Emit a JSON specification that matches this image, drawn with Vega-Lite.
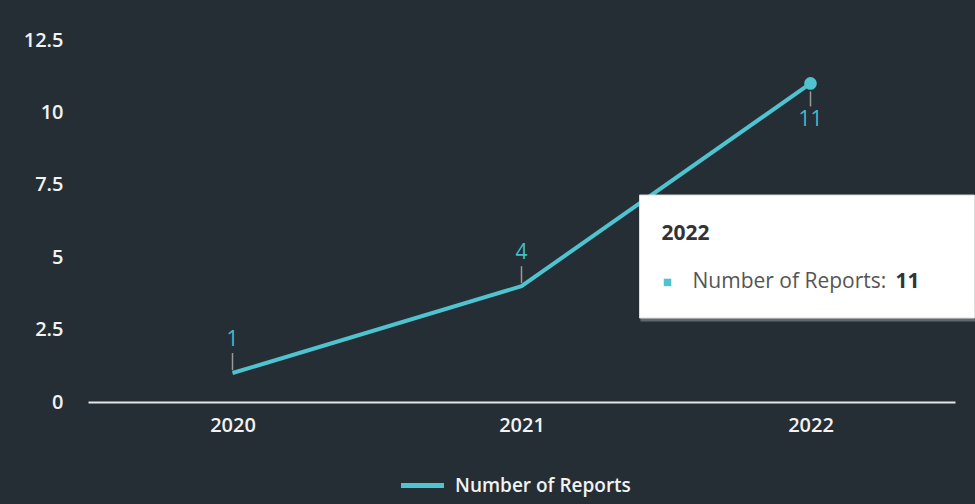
{
  "$schema": "https://vega.github.io/schema/vega-lite/v6.json",
  "width": 867,
  "height": 362,
  "autosize": {"type": "none"},
  "padding": {"left": 88, "top": 40, "right": 20, "bottom": 102},
  "background": "#252e35",
  "config": {"view": {"stroke": null}, "font": "Open Sans"},
  "data": {
    "values": [
      {"year": 2020, "reports": 1, "series": "Number of Reports"},
      {"year": 2021, "reports": 4, "series": "Number of Reports"},
      {"year": 2022, "reports": 11, "series": "Number of Reports"}
    ]
  },
  "encoding": {
    "x": {
      "field": "year",
      "type": "quantitative",
      "scale": {"domain": [2019.5, 2022.5], "nice": false, "zero": false},
      "axis": {
        "values": [2020, 2021, 2022],
        "format": "d",
        "title": null,
        "grid": false,
        "ticks": false,
        "domainColor": "#e6e6e6",
        "domainWidth": 2,
        "labelColor": "#f2f2f2",
        "labelFontSize": 20,
        "labelFontWeight": 600,
        "labelPadding": 13
      }
    },
    "y": {
      "field": "reports",
      "type": "quantitative",
      "scale": {"domain": [0, 12.5], "nice": false},
      "axis": {
        "values": [0, 2.5, 5, 7.5, 10, 12.5],
        "format": ".3~g",
        "title": null,
        "grid": false,
        "ticks": false,
        "domain": false,
        "labelColor": "#f2f2f2",
        "labelFontSize": 20,
        "labelFontWeight": 600,
        "labelPadding": 25
      }
    }
  },
  "layer": [
    {
      "mark": {"type": "line", "strokeWidth": 4},
      "encoding": {
        "color": {
          "field": "series",
          "type": "nominal",
          "scale": {"range": ["#4fc3cf"]},
          "legend": {
            "title": null,
            "orient": "none",
            "legendX": 310,
            "legendY": 421,
            "symbolType": "stroke",
            "symbolStrokeWidth": 5,
            "symbolSize": 1850,
            "labelColor": "#f2f2f2",
            "labelFontSize": 19,
            "labelFontWeight": 600,
            "labelLimit": 400,
            "labelOffset": 8
          }
        }
      }
    },
    {
      "transform": [{"filter": "datum.year < 2022"}],
      "mark": {"type": "rule", "color": "#9a9a9a", "strokeWidth": 1.5, "yOffset": -3, "y2Offset": -20},
      "encoding": {"y2": {"field": "reports"}}
    },
    {
      "transform": [{"filter": "datum.year < 2022"}],
      "mark": {"type": "text", "color": "#45bccb", "fontSize": 21, "baseline": "middle", "dy": -33},
      "encoding": {"text": {"field": "reports"}}
    },
    {
      "transform": [{"filter": "datum.year == 2022"}],
      "mark": {"type": "rule", "color": "#9a9a9a", "strokeWidth": 1.5, "yOffset": 8, "y2Offset": 23},
      "encoding": {"y2": {"field": "reports"}}
    },
    {
      "transform": [{"filter": "datum.year == 2022"}],
      "mark": {"type": "text", "color": "#45bccb", "fontSize": 21, "baseline": "middle", "dy": 37},
      "encoding": {"text": {"field": "reports"}}
    },
    {
      "transform": [{"filter": "datum.year == 2022"}],
      "mark": {"type": "point", "filled": true, "opacity": 1, "size": 160, "color": "#4fc3cf"},
      "encoding": {}
    },
    {
      "transform": [{"filter": "datum.year == 2022"}],
      "mark": {"type": "rect", "color": "#8a8f93", "opacity": 0.6, "xOffset": -170, "x2Offset": 166, "yOffset": 113, "y2Offset": 238},
      "encoding": {"x2": {"field": "year"}, "y2": {"field": "reports"}}
    },
    {
      "transform": [{"filter": "datum.year == 2022"}],
      "mark": {"type": "rect", "color": "#ffffff", "stroke": "#dddddd", "strokeWidth": 1, "xOffset": -171, "x2Offset": 164, "yOffset": 111.6, "y2Offset": 234.6},
      "encoding": {"x2": {"field": "year"}, "y2": {"field": "reports"}}
    },
    {
      "transform": [{"filter": "datum.year == 2022"}],
      "mark": {"type": "text", "color": "#333333", "fontSize": 21, "fontWeight": "bold", "align": "left", "baseline": "middle", "dx": -149, "dy": 151},
      "encoding": {"text": {"field": "year", "format": "d"}}
    },
    {
      "transform": [{"filter": "datum.year == 2022"}],
      "mark": {"type": "square", "filled": true, "opacity": 1, "size": 56, "color": "#4fc3cf", "xOffset": -143, "yOffset": 199},
      "encoding": {}
    },
    {
      "transform": [{"filter": "datum.year == 2022"}],
      "mark": {"type": "text", "color": "#555555", "fontSize": 21, "align": "left", "baseline": "middle", "dx": -118, "dy": 199, "text": "Number of Reports:"},
      "encoding": {}
    },
    {
      "transform": [{"filter": "datum.year == 2022"}],
      "mark": {"type": "text", "color": "#333333", "fontSize": 21, "fontWeight": "bold", "align": "left", "baseline": "middle", "dx": 85, "dy": 199},
      "encoding": {"text": {"field": "reports"}}
    }
  ]
}
